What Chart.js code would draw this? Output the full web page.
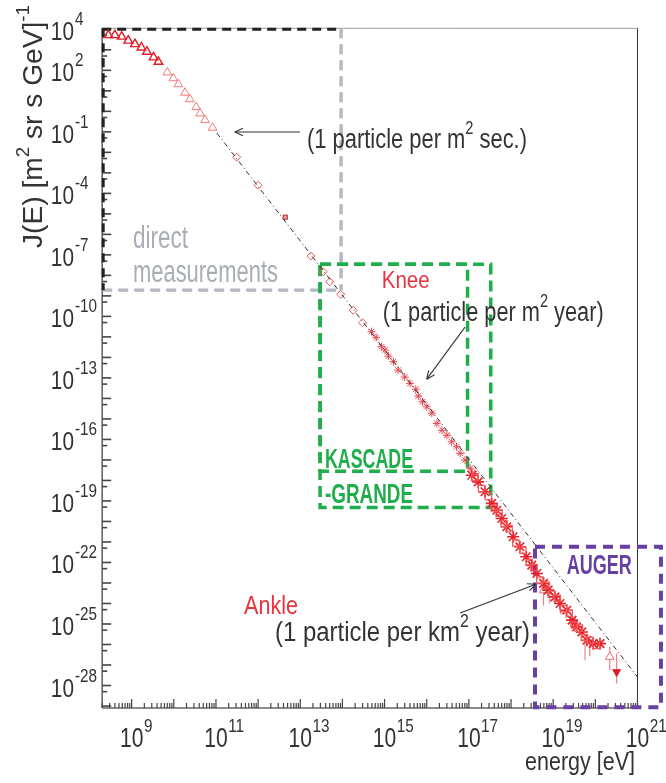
<!DOCTYPE html>
<html>
<head>
<meta charset="utf-8">
<script src="https://cdn.jsdelivr.net/npm/chart.js@4/dist/chart.umd.min.js"></script>
<style>
  html, body { margin: 0; padding: 0; background: #fff; }
</style>
</head>
<body>
<canvas id="spectrum" width="666" height="783"></canvas>
<script>
const FONT = '"Liberation Sans", Arial, sans-serif';

// Axis ranges
const E_MIN = 2e8, E_MAX = 1e21;
const J_MIN = 8e-30, J_MAX = 1.12e4;

// Tick labels (exponents of 10)
const xLabelExps = [9, 11, 13, 15, 17, 19, 21];
const yLabelExps = [4, 2, -1, -4, -7, -10, -13, -16, -19, -22, -25, -28];

// Direct measurements (open triangles), energy in eV, flux J(E)
const directE = [2.8e8, 4.0e8, 5.8e8, 8.3e8, 1.2e9, 1.7e9, 2.3e9, 3.3e9, 4.3e9];
const directJ = [5.2e3, 5.2e3, 4.4e3, 2.8e3, 1.9e3, 1.3e3, 8.1e2, 4.3e2, 2.6e2];
const direct2E = [7.0e9, 9.7e9, 1.28e10, 1.84e10, 2.4e10, 3.4e10, 4.2e10, 5.5e10, 8.3e10];
const direct2J = [79, 41, 21, 8.1, 3.9, 1.6, 0.79, 0.38, 0.16];

// Balloon / satellite points (open diamonds)
const balloonE = [3.1e11, 1.0e12, 1.8e13, 3.5e13, 5.0e13, 9.1e13, 1.8e14, 3.0e14];
const balloonJ = [5.8e-3, 2.5e-4, 8.7e-8, 1.5e-8, 4.9e-9, 1.2e-9, 2.0e-10, 4.9e-11];
const emulsionE = [4.4e12];
const emulsionJ = [6.9e-6];

// KASCADE (asterisks)
const kascadeE = [4.9e14, 6.3e14, 8.5e14, 1.02e15, 1.23e15, 1.62e15, 2.1e15, 3.0e15, 4.0e15, 5.5e15, 6.3e15, 7.9e15,
  1.0e16, 1.32e16, 1.74e16, 2.3e16, 3.0e16, 3.9e16, 5.1e16, 6.2e16, 8.1e16, 1.07e17, 1.38e17];
const kascadeJ = [1.8e-11, 9.5e-12, 3.3e-12, 2.3e-12, 1.15e-12, 6.2e-13, 2.4e-13, 1.1e-13, 5.4e-14, 2.8e-14, 1.3e-14, 6.8e-15,
  3.9e-15, 1.9e-15, 6.0e-16, 2.8e-16, 1.6e-16, 7.6e-17, 4.4e-17, 2.1e-17, 9.8e-18, 3.9e-18, 2.2e-18];

// KASCADE-Grande / HiRes / Auger band (stars)
const bandE = [1.17e17, 1.66e17, 2.4e17, 3.5e17, 4.6e17, 6.0e17, 7.9e17, 1.12e18, 1.62e18, 2.3e18, 3.1e18, 4.1e18,
  5.9e18, 7.6e18, 1.10e19, 1.45e19, 2.1e19, 2.8e19, 3.6e19, 4.8e19, 6.3e19, 8.9e19, 1.29e20];
const bandJ = [1.8e-18, 8.5e-19, 2.8e-19, 7.6e-20, 3.5e-20, 1.4e-20, 5.5e-21, 1.8e-21, 5.8e-22, 1.9e-22, 7.4e-23, 2.9e-23,
  9.5e-24, 4.5e-24, 2.1e-24, 1.0e-24, 4.7e-25, 1.55e-25, 7.2e-26, 4.1e-26, 1.6e-26, 1.1e-26, 1.1e-26];
// second set in the same band (open squares)
const band2E = [1.4e17, 2.0e17, 2.9e17, 4.0e17, 5.2e17, 6.8e17, 9.0e17, 1.3e18, 1.9e18, 2.7e18, 3.5e18, 4.8e18,
  6.6e18, 9.0e18, 1.25e19, 1.75e19, 2.4e19, 3.2e19, 4.2e19, 5.5e19, 7.5e19, 1.05e20];
const band2J = [1.4e-18, 4.0e-19, 1.66e-19, 4.5e-20, 2.5e-20, 7.9e-21, 4.5e-21, 8.9e-22, 4.0e-22, 1.0e-22, 5.6e-23, 1.4e-23,
  7.9e-24, 2.8e-24, 1.8e-24, 5.6e-25, 3.2e-25, 8.9e-26, 6.3e-26, 2.2e-26, 1.6e-26, 8.9e-27];

// highest energy points
const openTriE = [5.9e18, 2.2e20];
const openTriJ = [4.4e-24, 2.5e-27];
const downTriE = [3.2e20];
const downTriJ = [4.6e-28];

// vertical error bars
const errE = [5.9e18, 8.3e18, 1.5e19, 2.6e19, 3.3e19, 5.7e19, 7.4e19, 2.2e20, 3.2e20];
const errLo = [8e-25, 1.0e-24, 3e-25, 8e-26, 4.1e-26, 1.7e-27, 2.7e-27, 5.6e-28, 1.26e-28];
const errHi = [2e-23, 1.1e-23, 2e-24, 4e-25, 2.2e-25, 2.3e-26, 1.6e-26, 7.6e-27, 3.6e-27];

// E^-2.7 guide line
const fitE = [1.05e11, 1e21];
const fitJ = [8.7e-2, 2.6e-28];

// Experiment regions (energy range x flux range)
const directBox = { e0: E_MIN, e1: 9.3e13, j0: 1.9e-9, j1: J_MAX };
const kascadeBox = { e0: 2.95e13, e1: 9.3e16, j0: 2.8e-18, j1: 3.5e-8 };
const grandeBox = { e0: 2.95e13, e1: 3.3e17, j0: 4.8e-20, j1: 3.5e-8 };
const augerBox = { e0: 3.7e18, e1: 3.6e21, j0: 8.7e-30, j1: 5.8e-22 };

// Arrows [e0, j0, e1, j1]
const arrows = [
  [9.8e12, 9.8e-2, 2.8e11, 9.8e-2],
  [8.1e16, 3.0e-11, 1.0e16, 8.7e-14],
  [6.2e16, 3.4e-25, 3.9e18, 8.7e-24]
];

const pts = (xs, ys) => xs.map((x, i) => ({ x, y: ys[i] }));

// text with superscripts, squeezed to a target width
function rich(ctx, parts, x, y, o) {
  const w8 = o.bold ? 'bold ' : '';
  const fBase = `${w8}${o.size}px ${FONT}`;
  const fSup = `${w8}${o.supSize || Math.round(o.size * 0.66)}px ${FONT}`;
  let total = 0;
  const widths = parts.map(([t, sup]) => {
    ctx.font = sup ? fSup : fBase;
    const w = ctx.measureText(t).width;
    total += w;
    return w;
  });
  const sx = o.width ? o.width / total : (o.squeeze || 1);
  let cx = o.align === 'right' ? -total : o.align === 'center' ? -total / 2 : 0;
  ctx.save();
  ctx.translate(x, y);
  if (o.rotate) ctx.rotate(o.rotate);
  ctx.scale(sx, 1);
  ctx.fillStyle = o.color || '#333';
  ctx.textAlign = 'left';
  ctx.textBaseline = 'alphabetic';
  parts.forEach(([t, sup], i) => {
    ctx.font = sup ? fSup : fBase;
    ctx.fillText(t, cx, sup ? -(o.raise || o.size * 0.45) : 0);
    cx += widths[i];
  });
  ctx.restore();
  return total * sx;
}

function dashedRect(ctx, X, Y, b, style) {
  const x0 = X(b.e0), x1 = X(b.e1), y0 = Y(b.j0), y1 = Y(b.j1);
  ctx.save();
  ctx.lineWidth = style.width;
  ctx.setLineDash(style.dash);
  ctx.strokeStyle = style.color;
  ctx.strokeRect(x0, y1, x1 - x0, y0 - y1);
  ctx.restore();
}

function seg(ctx, x0, y0, x1, y1, color, width, dash) {
  ctx.save();
  ctx.beginPath();
  ctx.strokeStyle = color;
  ctx.lineWidth = width;
  ctx.setLineDash(dash || []);
  ctx.moveTo(x0, y0);
  ctx.lineTo(x1, y1);
  ctx.stroke();
  ctx.restore();
}

const decor = {
  id: 'decor',
  beforeDatasetsDraw(chart) {
    const ctx = chart.ctx;
    const X = v => chart.scales.x.getPixelForValue(v);
    const Y = v => chart.scales.y.getPixelForValue(v);
    const a = chart.chartArea;

    // frame
    seg(ctx, a.left, a.top, a.right, a.top, '#999', 1);
    seg(ctx, a.right, a.top, a.right, a.bottom, '#333', 1);
    seg(ctx, a.left, a.bottom, a.right, a.bottom, '#666', 1.6);
    seg(ctx, a.left, a.top, a.left, a.bottom, '#666', 1.6);

    // x ticks
    for (let d = 8; d <= 21; d++) {
      for (let k = 1; k <= 9; k++) {
        const v = k * Math.pow(10, d);
        if (v < E_MIN * 0.999 || v > E_MAX * 1.001) continue;
        const px = X(v);
        seg(ctx, px, a.bottom, px, a.bottom - (k === 1 ? 9 : 5), '#444', 1.2);
      }
    }
    // y ticks
    for (let n = -29; n <= 4; n++) {
      const v = Math.pow(10, n);
      if (v >= J_MIN && v <= J_MAX) seg(ctx, a.left, Y(v), a.left + 9, Y(v), '#444', 1.6);
      const h = 0.5 * v;
      if (h >= J_MIN && h <= J_MAX) seg(ctx, a.left, Y(h), a.left + 5, Y(h), '#444', 1.6);
    }

    // error bars
    ctx.save();
    ctx.beginPath();
    ctx.rect(a.left, a.top, a.right - a.left, a.bottom - a.top);
    ctx.clip();
    errE.forEach((e, i) => seg(ctx, X(e), Y(errLo[i]), X(e), Y(errHi[i]), '#f07f86', 1.2));
    ctx.restore();

    // experiment regions
    const grey = { width: 3.4, dash: [10, 6], color: '#b3b7bf' };
    const black = { width: 3, dash: [9, 6], color: '#222' };
    const x0 = X(directBox.e0), x1 = X(directBox.e1), yb = Y(directBox.j0), yt = Y(directBox.j1);
    seg(ctx, x1, yt, x1, yb, grey.color, grey.width, grey.dash);
    seg(ctx, x0, yb, x1, yb, grey.color, grey.width, grey.dash);
    seg(ctx, x0, yt + 1, x1, yt + 1, black.color, black.width, black.dash);
    seg(ctx, x0 + 1, yt, x0 + 1, yb, black.color, black.width, black.dash);

    const green = { width: 3.5, dash: [11, 6], color: '#1fae4b' };
    dashedRect(ctx, X, Y, kascadeBox, green);
    dashedRect(ctx, X, Y, grandeBox, green);
    dashedRect(ctx, X, Y, augerBox, { width: 4, dash: [10, 7], color: '#6641a2' });
  },
  afterDraw(chart) {
    const ctx = chart.ctx;
    const X = v => chart.scales.x.getPixelForValue(v);
    const Y = v => chart.scales.y.getPixelForValue(v);

    // tick labels
    xLabelExps.forEach(e => {
      const px = X(Math.pow(10, e));
      const w = rich(ctx, [['10']], px, 746.5, { size: 27, squeeze: 0.78, align: 'center', color: '#333' });
      rich(ctx, [[String(e)]], px + w / 2 + 0.5, 731.5, { size: 18, squeeze: 0.85, color: '#333' });
    });
    yLabelExps.forEach(e => {
      const py = Y(Math.pow(10, e)) + 11;
      rich(ctx, [['10']], 74, py, { size: 26, squeeze: 0.8, align: 'right', color: '#333' });
      rich(ctx, [[String(e)]], 75, py - 15, { size: 18, squeeze: 0.85, color: '#333' });
    });

    // axis titles
    rich(ctx, [['energy [eV]']], 635, 770, { size: 26, width: 110, align: 'right', color: '#333' });
    rich(ctx, [['J(E) [m'], ['2', true], [' sr s GeV]'], ['-1', true]], 42, 248,
      { size: 27, width: 243, rotate: -Math.PI / 2, raise: 13, color: '#333' });

    // annotations
    rich(ctx, [['(1 particle per m'], ['2', true], [' sec.)']], 307, 148, { size: 27, width: 220, raise: 14 });
    rich(ctx, [['Knee']], 381.7, 288.3, { size: 24, width: 48, color: '#e8323c' });
    rich(ctx, [['(1 particle per m'], ['2', true], [' year)']], 382.7, 321, { size: 27, width: 221, raise: 14 });
    rich(ctx, [['Ankle']], 244, 614, { size: 25, width: 54, color: '#e8323c' });
    rich(ctx, [['(1 particle per km'], ['2', true], [' year)']], 275, 641, { size: 27, width: 255, raise: 14 });
    rich(ctx, [['direct']], 133, 248, { size: 31, width: 55, color: '#a9adb5' });
    rich(ctx, [['measurements']], 133, 282, { size: 31, width: 145, color: '#a9adb5' });
    rich(ctx, [['KASCADE']], 325, 468, { size: 28, bold: true, width: 88, color: '#1fae4b' });
    rich(ctx, [['-GRANDE']], 325, 503, { size: 28, bold: true, width: 88, color: '#1fae4b' });
    rich(ctx, [['AUGER']], 566.7, 574, { size: 27, bold: true, width: 65, color: '#6641a2' });

    arrows.forEach(([e0, j0, e1, j1]) => {
      const x0 = X(e0), y0 = Y(j0), x1 = X(e1), y1 = Y(j1);
      seg(ctx, x0, y0, x1, y1, '#333', 1.1);
      const ang = Math.atan2(y0 - y1, x0 - x1);
      [0.42, -0.42].forEach(d => {
        seg(ctx, x1, y1, x1 + 9 * Math.cos(ang + d), y1 + 9 * Math.sin(ang + d), '#333', 1.1);
      });
    });
  }
};

const open = 'rgba(0,0,0,0)';

new Chart(document.getElementById('spectrum'), {
  type: 'scatter',
  data: {
    datasets: [
      { label: 'E^-2.7', type: 'line', showLine: true, data: pts(fitE, fitJ), borderColor: '#333', borderWidth: 1,
        borderDash: [5, 3, 1, 3], pointRadius: 0, fill: false },
      { label: 'direct', data: pts(directE, directJ), pointStyle: 'triangle', pointRadius: 5, borderWidth: 1.4,
        borderColor: '#e01e28', backgroundColor: open },
      { label: 'direct 2', data: pts(direct2E, direct2J), pointStyle: 'triangle', pointRadius: 5, borderWidth: 1,
        borderColor: '#f07a7a', backgroundColor: open },
      { label: 'balloon', data: pts(balloonE, balloonJ), pointStyle: 'rectRot', pointRadius: 4, borderWidth: 1,
        borderColor: '#ef5a5a', backgroundColor: open },
      { label: 'emulsion', data: pts(emulsionE, emulsionJ), pointStyle: 'rect', pointRadius: 3, borderWidth: 1,
        borderColor: '#b83038', backgroundColor: '#f39a9a' },
      { label: 'KASCADE', data: pts(kascadeE, kascadeJ), pointStyle: 'star', pointRadius: 4, borderWidth: 1,
        borderColor: '#ec4650', backgroundColor: open },
      { label: 'band 2', data: pts(band2E, band2J), pointStyle: 'rect', pointRadius: 4.5, borderWidth: 1.2,
        borderColor: '#f05a5a', backgroundColor: open },
      { label: 'band', data: pts(bandE, bandJ), pointStyle: 'star', pointRadius: 6, borderWidth: 1.6,
        borderColor: '#e8222c', backgroundColor: open },
      { label: 'open tri', data: pts(openTriE, openTriJ), pointStyle: 'triangle', pointRadius: 5, borderWidth: 1,
        borderColor: '#f06a70', backgroundColor: '#fff' },
      { label: 'down tri', data: pts(downTriE, downTriJ), pointStyle: 'triangle', rotation: 180, pointRadius: 4.5,
        borderWidth: 1, borderColor: '#e01e28', backgroundColor: '#e01e28' }
    ]
  },
  options: {
    responsive: false,
    devicePixelRatio: 1,
    animation: false,
    events: [],
    layout: { padding: { left: 102.2, right: 28.5, top: 28.3, bottom: 75 } },
    scales: {
      x: { type: 'logarithmic', min: E_MIN, max: E_MAX, display: false },
      y: { type: 'logarithmic', min: J_MIN, max: J_MAX, display: false }
    },
    plugins: { legend: { display: false }, tooltip: { enabled: false } }
  },
  plugins: [decor]
});
</script>
</body>
</html>
